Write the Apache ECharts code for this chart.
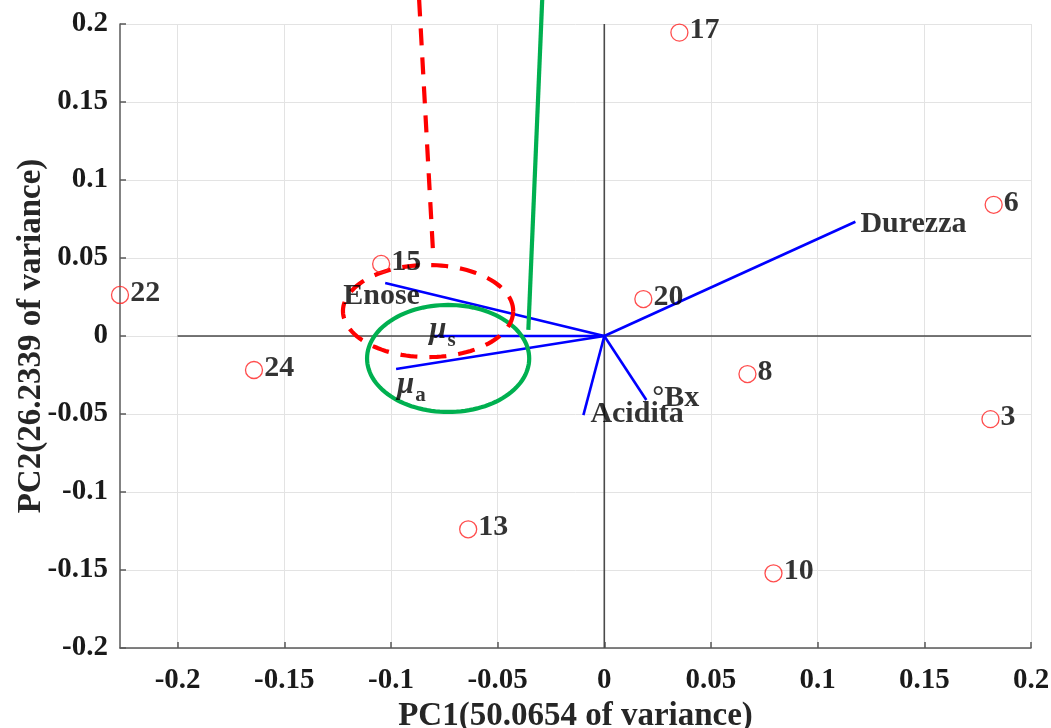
<!DOCTYPE html>
<html>
<head>
<meta charset="utf-8">
<title>PCA biplot</title>
<script src="https://cdn.jsdelivr.net/npm/echarts@6/dist/echarts.min.js"></script>
<style>
  html, body { margin: 0; padding: 0; background: #fff; }
  #chart { width: 1051px; height: 728px; }
</style>
</head>
<body>
<div id="chart"></div>
<script>
// Loadings (variables) on PC1 / PC2
const varNames = ['Durezza', 'Enose', 'mus', 'mua', 'Acidita', 'Bx'];
const varPC1 = [0.1177, -0.1027, -0.0797, -0.0976, -0.0098, 0.0197];
const varPC2 = [0.0732, 0.0340, 0.0000, -0.0212, -0.0507, -0.0410];

// Scores (observations) on PC1 / PC2
const obsIds = ['17', '6', '15', '22', '20', '24', '8', '3', '13', '10'];
const obsPC1 = [0.0352, 0.1825, -0.1046, -0.2270, 0.0183, -0.1642, 0.0671, 0.1810, -0.0638, 0.0793];
const obsPC2 = [0.1945, 0.0841, 0.0462, 0.0263, 0.0237, -0.0218, -0.0244, -0.0533, -0.1239, -0.1521];

// Axis ticks
const xTicks = [-0.2, -0.15, -0.1, -0.05, 0, 0.05, 0.1, 0.15, 0.2];
const xRange = [-0.227, 0.2];
const yRange = [-0.2, 0.2];

// Highlight annotations (ellipses: centre x, centre y, radius x, radius y)
const redEllipse = [-0.0826, 0.0160, 0.0399, 0.0295];
const redLeader = [[-0.0868, 0.2157], [-0.0802, 0.0520]];
const greenEllipse = [-0.0732, -0.0144, 0.0380, 0.0343];
const greenLeader = [[-0.0291, 0.2157], [-0.0356, 0.0039]];

const FONT = '"Liberation Serif", "Times New Roman", serif';
const AXIS_COLOR = '#5a5a5a';
const TEXT_COLOR = '#000';

// Label placement for the loading vectors
const varLabelStyle = {
  Durezza: { offset: [5, 2], text: 'Durezza' },
  Enose:   { offset: [-42, 13], text: 'Enose' },
  mus:     { offset: [-5, -6], text: '{mu|μ}{sub|s}' },
  mua:     { offset: [1, 16], text: '{mu|μ}{sub|a}' },
  Acidita: { offset: [7, -1], text: 'Acidita' },
  Bx:      { offset: [6, -2], text: '°Bx' }
};

const chart = echarts.init(document.getElementById('chart'), null, { renderer: 'canvas' });

const series = [];

// Coordinate axes through the origin
series.push({
  type: 'line', data: [[-0.2, 0], [0.2, 0]], symbol: 'none', silent: true, z: 1,
  lineStyle: { color: '#4a4a4a', width: 1.6 }
});
series.push({
  type: 'line', data: [[0, -0.2], [0, 0.2]], symbol: 'none', silent: true, z: 1,
  lineStyle: { color: '#4a4a4a', width: 1.6 }
});

// Loading vectors
varNames.forEach(function (name, i) {
  series.push({
    type: 'line', data: [[0, 0], [varPC1[i], varPC2[i]]], symbol: 'none', silent: true, z: 2,
    lineStyle: { color: '#0000ff', width: 2.6 }
  });
});

// Ellipse + leader line annotations
function ellipseSeries(e, leader, color, dash, z) {
  return {
    type: 'custom', z: z, silent: true, clip: false,
    data: [0],
    renderItem: function (params, api) {
      const c = api.coord([e[0], e[1]]);
      const sz = api.size([e[2], e[3]]);
      const pts = [];
      const n = 120;
      for (let k = 0; k <= n; k++) {
        const t = (k / n) * Math.PI * 2;
        pts.push([c[0] + sz[0] * Math.cos(t), c[1] + sz[1] * Math.sin(t)]);
      }
      const p0 = api.coord(leader[0]);
      const p1 = api.coord(leader[1]);
      const style = { stroke: color, lineWidth: 4.2, fill: null, lineDash: dash };
      return {
        type: 'group',
        children: [
          { type: 'polyline', shape: { points: pts }, style: style },
          { type: 'line', shape: { x1: p0[0], y1: p0[1], x2: p1[0], y2: p1[1] }, style: style }
        ]
      };
    }
  };
}
series.push(ellipseSeries(greenEllipse, greenLeader, '#00b050', null, 3));
series.push(ellipseSeries(redEllipse, redLeader, '#ff0000', [17, 12], 4));

// Vector labels
series.push({
  type: 'scatter', z: 5, silent: true, symbolSize: 0,
  data: varNames.map(function (name, i) {
    const s = varLabelStyle[name];
    return {
      value: [varPC1[i], varPC2[i]],
      label: { offset: s.offset, formatter: s.text }
    };
  }),
  label: {
    show: true, position: 'right', distance: 0,
    fontFamily: FONT, fontWeight: 'bold', fontSize: 30, color: TEXT_COLOR,
    rich: {
      mu: { fontFamily: FONT, fontWeight: 'bold', fontStyle: 'italic', fontSize: 31, color: TEXT_COLOR },
      sub: { fontFamily: FONT, fontWeight: 'bold', fontSize: 21, color: TEXT_COLOR, padding: [22, 0, 0, 1] }
    }
  }
});

// Observation scores
series.push({
  type: 'scatter', z: 6,
  symbol: 'circle', symbolSize: 17,
  itemStyle: { color: 'rgba(0,0,0,0)', borderColor: '#ff2020', borderWidth: 1.3 },
  data: obsIds.map(function (id, i) { return { value: [obsPC1[i], obsPC2[i]], name: id }; }),
  label: {
    show: true, position: 'right', distance: 1, offset: [0, -2],
    formatter: function (p) { return p.name; },
    fontFamily: FONT, fontWeight: 'bold', fontSize: 30, color: TEXT_COLOR
  }
});

chart.setOption({
  animation: false,
  backgroundColor: '#ffffff',
  grid: { left: 120, right: 20, top: 24, bottom: 80, containLabel: false, outerBoundsMode: 'none' },
  xAxis: {
    type: 'value', min: xRange[0], max: xRange[1],
    name: 'PC1(50.0654 of variance)', nameLocation: 'middle', nameGap: 52, nameMoveOverlap: false,
    nameTextStyle: { fontFamily: FONT, fontWeight: 'bold', fontSize: 33, color: '#262626' },
    axisLine: { show: true, onZero: false, lineStyle: { color: AXIS_COLOR, width: 1.5 } },
    axisTick: { show: true, inside: true, length: 6, customValues: xTicks, lineStyle: { color: AXIS_COLOR, width: 1.5 } },
    axisLabel: {
      customValues: xTicks, margin: 18,
      fontFamily: FONT, fontWeight: 'bold', fontSize: 29, color: '#1a1a1a'
    },
    splitLine: { show: true, lineStyle: { color: '#e3e3e3', width: 1 } }
  },
  yAxis: {
    type: 'value', min: yRange[0], max: yRange[1], interval: 0.05,
    name: 'PC2(26.2339 of variance)', nameLocation: 'middle', nameGap: 72, nameRotate: 90, nameMoveOverlap: false,
    nameTextStyle: { fontFamily: FONT, fontWeight: 'bold', fontSize: 33, color: '#262626' },
    axisLine: { show: true, onZero: false, lineStyle: { color: AXIS_COLOR, width: 1.5 } },
    axisTick: { show: true, inside: true, length: 6, lineStyle: { color: AXIS_COLOR, width: 1.5 } },
    axisLabel: {
      margin: 12,
      fontFamily: FONT, fontWeight: 'bold', fontSize: 29, color: '#1a1a1a'
    },
    splitLine: { show: true, lineStyle: { color: '#e3e3e3', width: 1 } }
  },
  series: series
});
</script>
</body>
</html>
